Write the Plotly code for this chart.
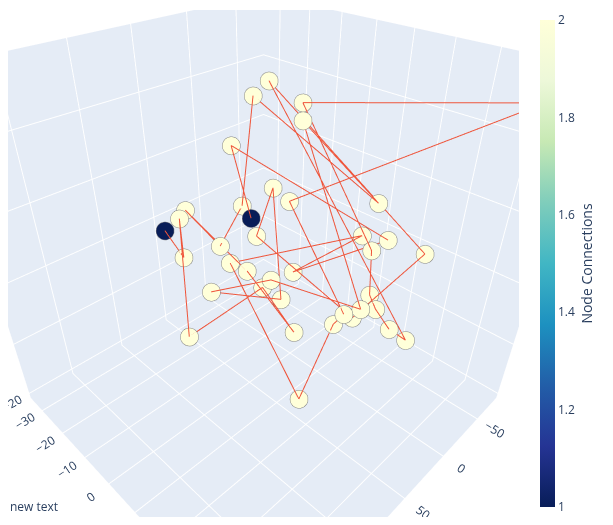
import plotly.graph_objects as go

# Node positions (data units)
node_x = [-59.04, -0.41, 11.63, -10.81, -5.73, 36.47, 27.94, 23.69, 48.15, 47.28,
          77.24, 82.57, 93.03, 49.67, 70.30, 91.37, 70.21, 64.17, 54.99, 61.25,
          41.99, 87.66, 55.60, 58.56, 111.09, 75.00, 37.02, 29.08, 25.91, 19.37,
          10.89, 12.04, 11.09, 6.14, -2.22, -13.65, -2.63, -27.77, -19.44]
node_y = [43.59, -8.94, -10.07, -1.76, -0.16, -9.01, 1.22, 4.95, -1.95, 0.54,
          -10.31, -10.48, -11.64, 2.98, -1.74, -6.33, 1.31, 4.63, 9.12, 8.48,
          11.79, 0.96, 12.38, 17.31, 1.57, 24.02, 22.67, 23.40, 25.01, 25.57,
          25.66, 27.87, 31.72, 35.23, 19.23, 23.63, 22.02, 30.56, 18.88]
node_z = [25.53, 23.16, 21.59, 20.86, 18.98, 16.37, 11.93, 10.52, 10.05, 8.75,
          9.58, 8.70, 7.44, 6.87, 5.83, 4.63, 4.05, 3.22, 2.28, 1.49,
          3.11, 1.03, 0.24, -3.20, -3.67, -10.20, -2.37, -1.32, -1.69, -0.80,
          0.71, -0.80, -2.89, -4.04, 6.92, 6.45, 5.36, 4.99, 10.32]
node_connections = [2, 2, 2, 2, 2, 2, 2, 2, 2, 1,
                    2, 2, 1, 2, 2, 2, 2, 2, 2, 2,
                    2, 2, 2, 2, 2, 2, 2, 2, 2, 2,
                    2, 2, 2, 2, 2, 2, 2, 2, 2]

# Edges (source, target)
edge_src = [12, 15, 11, 24, 19, 23, 17, 10, 14, 8, 2, 38, 4, 29, 18, 21, 22, 6, 13,
            28, 37, 1, 33, 32, 31, 30, 36, 3, 0, 7, 27, 26, 25, 16, 34, 20, 35, 5]
edge_dst = [15, 11, 24, 19, 23, 17, 10, 14, 8, 2, 38, 4, 29, 18, 21, 22, 6, 13, 28,
            37, 1, 33, 32, 31, 30, 36, 3, 0, 7, 27, 26, 25, 16, 34, 20, 35, 5, 9]

# Axis settings
x_range = [-81, 189]
y_range = [-36, 49]
z_range = [-21, 29]
cb_ticks = [1, 1.2, 1.4, 1.6, 1.8, 2]

ex, ey, ez = [], [], []
for s, t in zip(edge_src, edge_dst):
    ex += [node_x[s], node_x[t], None]
    ey += [node_y[s], node_y[t], None]
    ez += [node_z[s], node_z[t], None]

ylgnbu = [[0, 'rgb(8,29,88)'], [0.125, 'rgb(37,52,148)'], [0.25, 'rgb(34,94,168)'],
          [0.375, 'rgb(29,145,192)'], [0.5, 'rgb(65,182,196)'], [0.625, 'rgb(127,205,187)'],
          [0.75, 'rgb(199,233,180)'], [0.875, 'rgb(237,248,217)'], [1, 'rgb(255,255,217)']]

nodes = go.Scatter3d(
    x=node_x, y=node_y, z=node_z, mode='markers',
    marker=dict(size=10.5, color=node_connections, colorscale=ylgnbu,
                cmin=1, cmax=2,
                line=dict(color='rgb(130,130,130)', width=1),
                colorbar=dict(title=dict(text='Node Connections', side='right'),
                              thickness=15, len=1, tickvals=cb_ticks, outlinewidth=0)),
    hoverinfo='none', showlegend=False)

edges = go.Scatter3d(x=ex, y=ey, z=ez, mode='lines', line=dict(width=2),
                     hoverinfo='none', showlegend=False)

fig = go.Figure([nodes, edges])
axis_common = dict(title=dict(text=''))
fig.update_layout(
    width=597, height=509,
    margin=dict(l=0, r=85, t=2, b=0),
    showlegend=False,
    scene=dict(
        xaxis=dict(range=x_range, dtick=50, **axis_common),
        yaxis=dict(range=y_range, dtick=10, **axis_common),
        zaxis=dict(range=z_range, dtick=10, **axis_common),
        aspectmode='cube',
        camera=dict(eye=dict(x=0.907, y=0.907, z=0.907), center=dict(x=0, y=0, z=0),
                    up=dict(x=0, y=0, z=1)),
    ),
    annotations=[dict(text='new text', x=0, y=0, xref='paper', yref='paper',
                      xanchor='left', yanchor='bottom', showarrow=False)],
)
fig.write_html("out.html")
